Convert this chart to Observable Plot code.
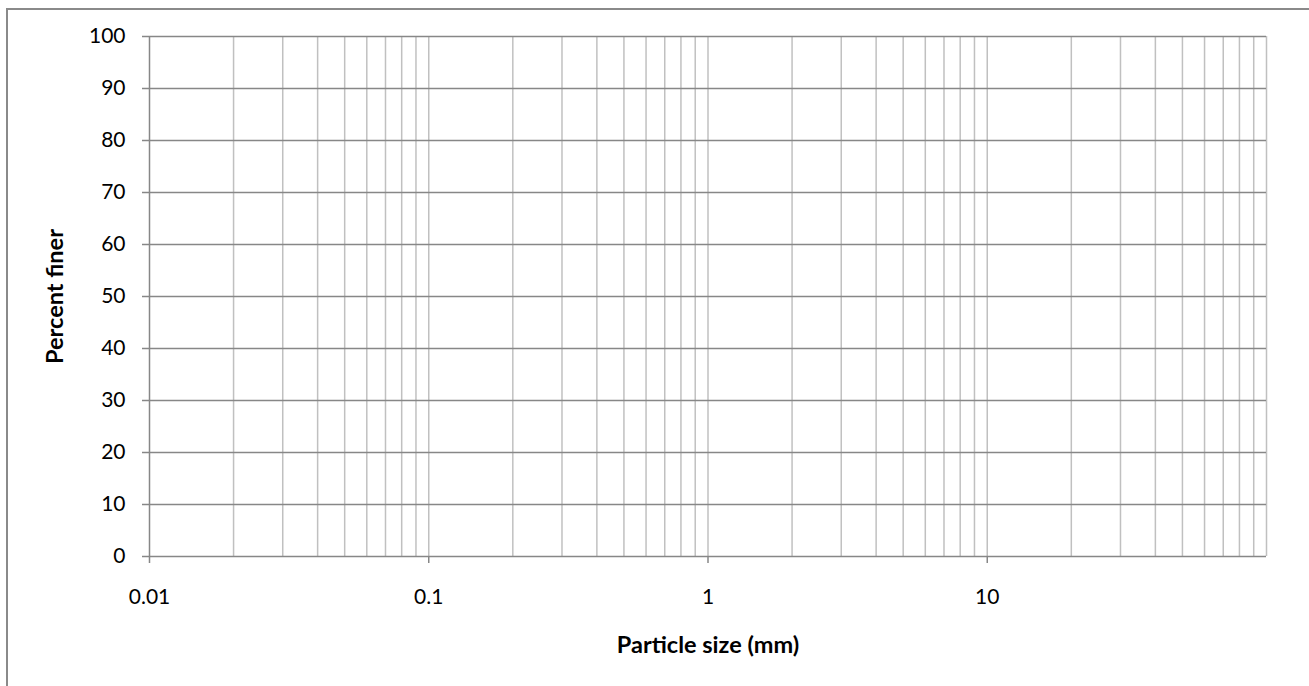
<!DOCTYPE html>
<html>
<head>
<meta charset="utf-8">
<script src="https://cdn.jsdelivr.net/npm/d3@7"></script>
<script src="https://cdn.jsdelivr.net/npm/@observablehq/plot@0.6"></script>
<style>
  html, body { margin: 0; padding: 0; background: #fff; overflow: hidden; }
  #wrap { position: relative; width: 1309px; height: 686px; }
  #frame { position: absolute; left: 6px; top: 8px; width: 1400px; height: 800px;
           border-left: 2px solid #8a8a8a; border-top: 2px solid #8a8a8a; pointer-events: none; }
  #chart { position: absolute; left: 0; top: 0; }
</style>
</head>
<body>
<div id="wrap"><div id="chart"></div><div id="frame"></div></div>
<script>
// Axis ticks
const xTicks = [0.01, 0.1, 1, 10];
const xTickLabels = ["0.01", "0.1", "1", "10"];
const yTicks = [0, 10, 20, 30, 40, 50, 60, 70, 80, 90, 100];
// Vertical (log) gridlines
const xGrid = [0.02, 0.03, 0.04, 0.05, 0.06, 0.07, 0.08, 0.09,
               0.1, 0.2, 0.3, 0.4, 0.5, 0.6, 0.7, 0.8, 0.9,
               1, 2, 3, 4, 5, 6, 7, 8, 9,
               10, 20, 30, 40, 50, 60, 70, 80, 90, 100];
// Horizontal gridlines
const yGrid = [10, 20, 30, 40, 50, 60, 70, 80, 90, 100];
const xDomain = [0.01, 100];
const yDomain = [0, 100];
const xTitle = "Particle size (mm)";
const yTitle = "Percent finer";

const font = "Lato, 'Open Sans', sans-serif";
const dark = "#878787";
const light = "#c0c0c0";

const chart = Plot.plot({
  width: 1309,
  height: 686,
  marginLeft: 149,
  marginRight: 43,
  marginTop: 36,
  marginBottom: 130,
  style: { fontFamily: font, background: "transparent", color: "#000" },
  x: { type: "log", domain: xDomain },
  y: { domain: yDomain },
  marks: [
    Plot.ruleX(xGrid, { stroke: light, strokeWidth: 1.5, strokeOpacity: 1 }),
    Plot.ruleY(yGrid, { stroke: dark, strokeWidth: 1.5, strokeOpacity: 1 }),
    Plot.ruleX([xDomain[0]], { stroke: dark, strokeWidth: 1.5 }),
    Plot.ruleY([yDomain[0]], { stroke: dark, strokeWidth: 1.5 }),
    Plot.axisY({ ticks: yTicks, tickSize: 7, tickPadding: 17, stroke: dark, strokeWidth: 1.5, strokeOpacity: 1,
                 fontSize: 21, label: null, tickFormat: d => String(d) }),
    Plot.axisX({ ticks: xTicks, tickSize: 7, tickPadding: 26, stroke: dark, strokeWidth: 1.5, strokeOpacity: 1,
                 fontSize: 21, label: null, tickFormat: d => xTickLabels[xTicks.indexOf(d)] }),
    Plot.text([xTitle], { text: d => d, frameAnchor: "bottom", dy: 89, lineAnchor: "middle",
                          fontSize: 23.5, fontWeight: "bold", fill: "#000" }),
    Plot.text([yTitle], { text: d => d, frameAnchor: "left", dx: -94, rotate: -90, lineAnchor: "middle",
                          textAnchor: "middle", fontSize: 23.5, fontWeight: "bold", fill: "#000" })
  ]
});
document.getElementById("chart").appendChild(chart);
</script>
</body>
</html>
